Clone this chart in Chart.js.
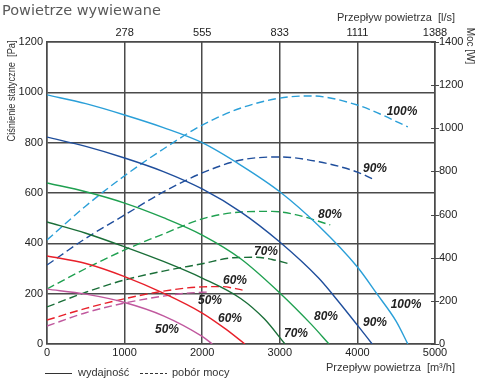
<!DOCTYPE html>
<html>
<head>
<meta charset="utf-8">
<script src="https://cdn.jsdelivr.net/npm/chart.js@4/dist/chart.umd.min.js"></script>
<style>
  body { margin: 0; background: #fff; }
  canvas { display: block; }
</style>
</head>
<body>
<canvas id="fanChart" width="480" height="390"></canvas>
<script>
// Pressure curves (flow m3/h, static pressure Pa) - left axis
const pressure100 = [[0, 990], [500, 955], [1000, 910], [1500, 860], [2000, 800], [2500, 710], [3000, 605], [3500, 470], [4000, 306], [4250, 200], [4500, 90], [4650, 0]];
const pressure90 = [[0, 822], [500, 785], [1000, 739], [1500, 685], [2000, 616], [2500, 524], [3000, 405], [3500, 262], [3700, 190], [4000, 75], [4190, 0]];
const pressure80 = [[0, 640], [500, 605], [1000, 560], [1500, 502], [2000, 433], [2500, 338], [3000, 203], [3400, 80], [3634, 0]];
const pressure70 = [[0, 485], [500, 440], [1000, 386], [1500, 328], [2000, 262], [2500, 180], [2800, 100], [3067, 0]];
const pressure60 = [[0, 350], [500, 320], [1000, 268], [1500, 202], [2000, 123], [2300, 60], [2550, 0]];
const pressure50 = [[0, 218], [500, 198], [1000, 165], [1500, 112], [2000, 30], [2130, 0]];

// Power curves (flow m3/h, power W) - right axis
const power100 = [[0, 482], [500, 640], [1000, 780], [1500, 904], [2000, 1015], [2500, 1094], [3000, 1140], [3400, 1150], [4000, 1108], [4300, 1065], [4650, 1006]];
const power90 = [[0, 366], [500, 490], [1000, 598], [1500, 705], [2000, 793], [2500, 853], [3000, 867], [3500, 845], [4000, 797], [4230, 760]];
const power80 = [[0, 255], [500, 350], [1000, 436], [1500, 510], [2000, 580], [2500, 612], [2900, 615], [3200, 600], [3650, 552]];
const power70 = [[0, 172], [500, 240], [1000, 297], [1500, 338], [2000, 372], [2400, 400], [2700, 402], [2900, 392], [3130, 371]];
const power60 = [[0, 111], [500, 165], [1000, 210], [1500, 245], [2000, 265], [2250, 266], [2520, 250]];
const power50 = [[0, 83], [500, 145], [1000, 190], [1500, 222], [1800, 236], [2100, 241]];

// Top axis labels (l/s) for 1000..5000 m3/h
const topTickLabels = ['278', '555', '833', '1111', '1388'];

// Percentage labels, anchored in (m3/h, Pa)
const speedLabels = [
    ['100%', 4575, 922], ['90%', 4227, 695], ['80%', 3647, 513], ['70%', 2822, 366], ['60%', 2423, 250], ['50%', 2100, 171],
    ['100%', 4626, 155], ['90%', 4227, 83], ['80%', 3595, 107], ['70%', 3209, 40], ['60%', 2358, 99], ['50%', 1546, 56]
];

const colors = {
    100: '#2a9fd8',
    90: '#1f4e9c',
    80: '#1fa050',
    70: '#1a6e38',
    60: '#e8202a',
    50: '#c0589e'
};

function toPoints(pairs) {
    return pairs.map(p => ({ x: p[0], y: p[1] }));
}

function curve(pairs, color, axis, dashed) {
    return {
        data: toPoints(pairs),
        borderColor: color,
        borderWidth: 1.4,
        borderDash: dashed ? [8, 4] : [],
        pointRadius: 0,
        cubicInterpolationMode: 'monotone',
        yAxisID: axis,
        fill: false
    };
}

// rotated text, optionally squeezed to the length it has in the original
function drawRotated(ctx, text, cx, cy, angle, size, length) {
    ctx.save();
    ctx.translate(cx, cy);
    ctx.rotate(angle);
    ctx.font = size + 'px "Liberation Sans"';
    ctx.textAlign = 'center';
    if (length) {
        ctx.scale(length / ctx.measureText(text).width, 1);
    }
    ctx.fillText(text, 0, 0);
    ctx.restore();
}

// draws titles, legend, inner ticks and percent labels
const decorations = {
    id: 'decorations',
    afterDraw(chart) {
        const ctx = chart.ctx;
        const xs = chart.scales.x;
        const ys = chart.scales.y;
        const yr = chart.scales.y1;
        ctx.save();

        // right axis ticks crossing the border
        ctx.strokeStyle = '#4a4a4a';
        ctx.lineWidth = 1;
        yr.ticks.forEach(t => {
            const py = Math.round(yr.getPixelForValue(t.value)) + 0.5;
            ctx.beginPath();
            ctx.moveTo(xs.right - 4, py);
            ctx.lineTo(xs.right + 4, py);
            ctx.stroke();
        });

        // chart title
        ctx.fillStyle = '#5a5a5a';
        ctx.font = '14.5px "DejaVu Sans"';
        ctx.textAlign = 'left';
        ctx.textBaseline = 'middle';
        ctx.fillText('Powietrze wywiewane', 2, 11);

        // axis titles
        ctx.fillStyle = '#333';
        ctx.font = '11px "Liberation Sans"';
        ctx.textAlign = 'right';
        ctx.fillText('Przepływ powietrza  [l/s]', 455, 18);
        ctx.fillText('Przepływ powietrza  [m³/h]', 455, 368);

        drawRotated(ctx, 'Ciśnienie statyczne  [Pa]', 12, 91, -Math.PI / 2, 11, 101);
        drawRotated(ctx, 'Moc [W]', 470, 46, Math.PI / 2, 10, 0);

        // legend
        ctx.strokeStyle = '#333';
        ctx.lineWidth = 1;
        ctx.beginPath();
        ctx.moveTo(45, 373.5);
        ctx.lineTo(72, 373.5);
        ctx.stroke();
        ctx.setLineDash([3, 2]);
        ctx.beginPath();
        ctx.moveTo(140, 373.5);
        ctx.lineTo(167, 373.5);
        ctx.stroke();
        ctx.setLineDash([]);
        ctx.textAlign = 'left';
        ctx.font = '11px "Liberation Sans"';
        ctx.fillText('wydajność', 78, 373);
        ctx.fillText('pobór mocy', 172, 373);

        // percent labels
        ctx.fillStyle = '#222';
        ctx.font = 'italic bold 12px "Liberation Sans"';
        ctx.textAlign = 'center';
        speedLabels.forEach(l => {
            ctx.fillText(l[0], xs.getPixelForValue(l[1]), ys.getPixelForValue(l[2]));
        });

        ctx.restore();
    }
};

const tickFont = { family: 'Liberation Sans', size: 11 };
const plainNumber = v => String(v);

new Chart(document.getElementById('fanChart'), {
    type: 'line',
    data: {
        datasets: [
            curve(pressure100, colors[100], 'y', false),
            curve(pressure90, colors[90], 'y', false),
            curve(pressure80, colors[80], 'y', false),
            curve(pressure70, colors[70], 'y', false),
            curve(pressure60, colors[60], 'y', false),
            curve(pressure50, colors[50], 'y', false),
            curve(power100, colors[100], 'y1', true),
            curve(power90, colors[90], 'y1', true),
            curve(power80, colors[80], 'y1', true),
            curve(power70, colors[70], 'y1', true),
            curve(power60, colors[60], 'y1', true),
            curve(power50, colors[50], 'y1', true)
        ]
    },
    options: {
        responsive: false,
        animation: false,
        layout: { padding: 0 },
        plugins: {
            legend: { display: false },
            tooltip: { enabled: false }
        },
        scales: {
            x: {
                type: 'linear',
                position: 'bottom',
                min: 0,
                max: 5000,
                ticks: { stepSize: 1000, color: '#222', font: tickFont, padding: 2, maxRotation: 0, autoSkip: false, callback: plainNumber },
                grid: { color: '#4a4a4a', lineWidth: 1.5, drawTicks: false },
                border: { color: '#4a4a4a', width: 1.5 },
                afterFit: s => { s.height = 46; }
            },
            x2: {
                type: 'linear',
                position: 'top',
                min: 0,
                max: 5000,
                ticks: {
                    stepSize: 1000,
                    color: '#222',
                    font: tickFont,
                    padding: 2,
                    maxRotation: 0,
                    autoSkip: false,
                    callback: v => v === 0 ? '' : topTickLabels[v / 1000 - 1]
                },
                grid: { display: false, drawTicks: false },
                border: { color: '#4a4a4a', width: 1.5 },
                afterFit: s => { s.height = 42; }
            },
            y: {
                position: 'left',
                min: 0,
                max: 1200,
                ticks: { stepSize: 200, color: '#222', font: tickFont, padding: 4, callback: plainNumber },
                grid: { color: '#4a4a4a', lineWidth: 1.5, drawTicks: false },
                border: { color: '#4a4a4a', width: 1.5 },
                afterFit: s => { s.width = 47; }
            },
            y1: {
                position: 'right',
                min: 0,
                max: 1400,
                ticks: { stepSize: 200, color: '#222', font: tickFont, padding: 4, callback: plainNumber },
                grid: { drawOnChartArea: false, drawTicks: false },
                border: { color: '#4a4a4a', width: 1.5 },
                afterFit: s => { s.width = 45; }
            }
        }
    },
    plugins: [decorations]
});
</script>
</body>
</html>
